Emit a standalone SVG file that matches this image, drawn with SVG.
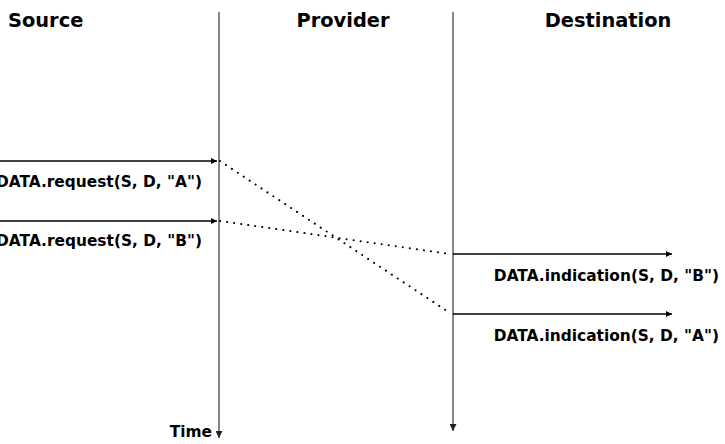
<svg xmlns="http://www.w3.org/2000/svg" width="725" height="444" viewBox="0 0 725 444">
<style>
text{font-family:"DejaVu Sans",sans-serif;font-weight:bold;fill:#000}
.h{font-size:19.4px}
.l{font-size:15.4px}
.life{stroke:#444;stroke-width:1.3;fill:none}
.msg{stroke:#000;stroke-width:1.3;fill:none}
.dot{stroke:#000;stroke-width:2;fill:none;stroke-dasharray:0.1 7;stroke-linecap:round}
</style>
<defs>
<marker id="ah" viewBox="0 0 10 10" refX="10" refY="5" markerWidth="6" markerHeight="6" markerUnits="userSpaceOnUse" orient="auto"><path d="M0,0L10,5L0,10z" fill="#000"/></marker>
<marker id="ah2" viewBox="0 0 10 10" refX="10" refY="5" markerWidth="7" markerHeight="7" markerUnits="userSpaceOnUse" orient="auto"><path d="M0,0L10,5L0,10z" fill="#222"/></marker>
</defs>
<g id="source"><text class="h" x="8" y="27">Source</text></g>
<g id="provider"><text class="h" x="343" y="27" text-anchor="middle">Provider</text></g>
<g id="destination"><text class="h" x="608" y="27" text-anchor="middle">Destination</text></g>
<g id="time"><text class="l" x="212" y="437" text-anchor="end">Time</text></g>
<g id="connectors">
<line class="life" x1="219" y1="12" x2="219" y2="438" marker-end="url(#ah2)"/>
<line class="life" x1="453" y1="12" x2="453" y2="431" marker-end="url(#ah2)"/>
<line class="msg" x1="0" y1="161" x2="217" y2="161" marker-end="url(#ah)"/>
<line class="msg" x1="0" y1="221" x2="217" y2="221" marker-end="url(#ah)"/>
<line class="msg" x1="453" y1="254" x2="672" y2="254" marker-end="url(#ah)"/>
<line class="msg" x1="453" y1="314" x2="672" y2="314" marker-end="url(#ah)"/>
<line class="dot" x1="220" y1="161" x2="450" y2="313"/>
<line class="dot" x1="220" y1="221" x2="450" y2="254"/>
</g>
<g id="labels">
<text class="l" x="202" y="187" text-anchor="end">DATA.request(S, D, "A")</text>
<text class="l" x="202" y="246" text-anchor="end">DATA.request(S, D, "B")</text>
<text class="l" x="719" y="281" text-anchor="end">DATA.indication(S, D, "B")</text>
<text class="l" x="719" y="341" text-anchor="end">DATA.indication(S, D, "A")</text>
</g>
</svg>
